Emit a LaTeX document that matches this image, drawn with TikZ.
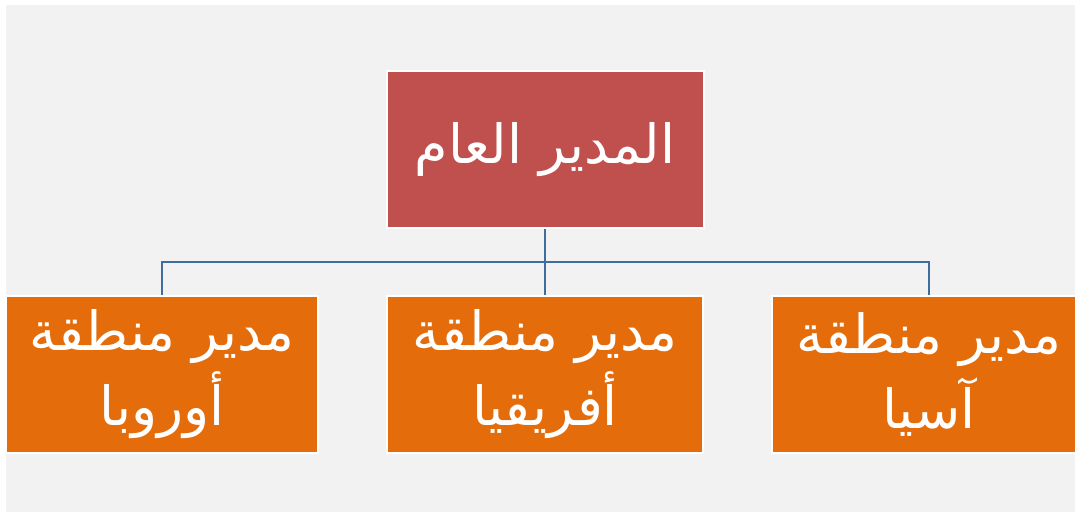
\documentclass[tikz,border=0pt]{standalone}
\usepackage{fontspec}
\TeXXeTstate=1
\newfontfamily\arabicfont[Script=Arabic]{DejaVu Sans}
\definecolor{bgray}{HTML}{F2F2F2}
\definecolor{topred}{HTML}{C0504D}
\definecolor{subor}{HTML}{E46C0A}
\definecolor{connblue}{HTML}{3F6D9E}
\tikzset{
  topbox/.style={rectangle, fill=topred, draw=white, line width=2pt, minimum height=157pt, inner sep=0pt, text=white, align=center, font=\arabicfont\fontsize{54}{75}\selectfont},
  subbox/.style={rectangle, fill=subor, draw=white, line width=2pt, minimum height=157pt, inner sep=0pt, text=white, align=center, font=\arabicfont\fontsize{54}{75}\selectfont},
  conn/.style={draw=connblue, line width=2.8pt}
}
\begin{document}
\begin{tikzpicture}[x=1pt,y=-1pt]
\useasboundingbox (0,0) rectangle (1075,512);
\fill[white] (0,0) rectangle (1075,512);
\fill[bgray] (6,5) rectangle (1075,512);
\node[topbox, minimum width=317pt] (top) at (545,149.5) {\beginR المدير العام\endR};
\node[subbox, minimum width=312pt] (left) at (162,374.5) {\beginR مدير منطقة\endR\\\beginR أوروبا\endR};
\node[subbox, minimum width=316pt] (mid) at (545,374.5) {\beginR مدير منطقة\endR\\\beginR أفريقيا\endR};
\node[subbox, minimum width=314pt] (right) at (929,374.5) {\beginR مدير منطقة\endR\\\beginR آسيا\endR};
\coordinate (j) at (545,262);
\draw[conn] (top.south) -- (j);
\draw[conn] (j) -- (mid.north);
\draw[conn] (j) -| (left.north);
\draw[conn] (j) -| (right.north);
\end{tikzpicture}
\end{document}
